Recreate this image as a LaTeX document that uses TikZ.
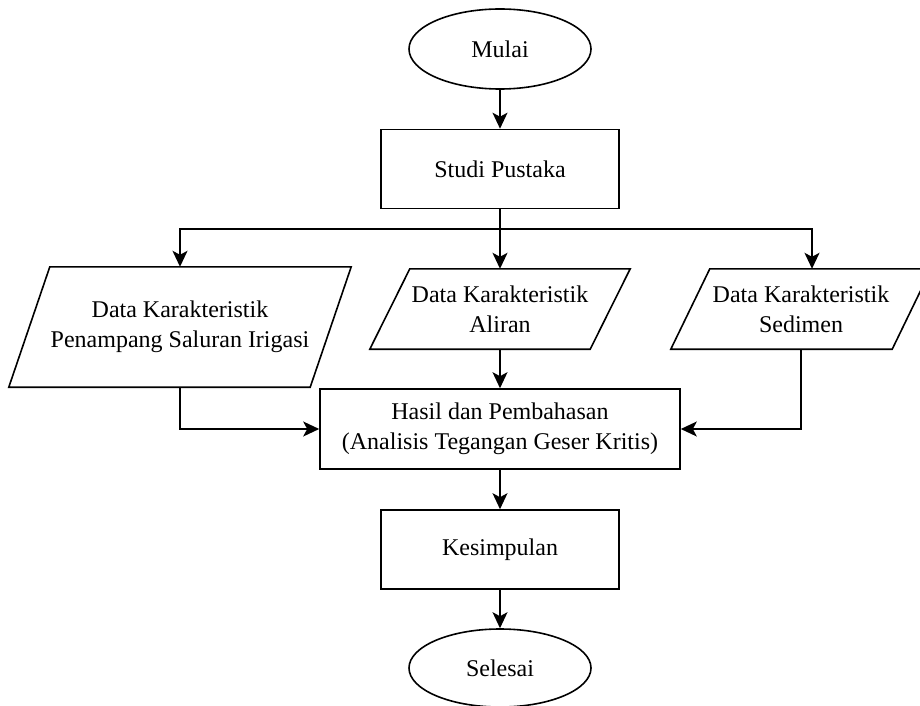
\documentclass[tikz,border=0pt]{standalone}
\usepackage{fontspec}
\setmainfont{Liberation Serif}
\usetikzlibrary{arrows.meta,shapes.geometric}
\begin{document}
\begin{tikzpicture}[x=1pt,y=1pt,
  every node/.style={font=\fontsize{24}{30}\selectfont, align=center, inner sep=0pt},
  term/.style={draw, ellipse, line width=1.6pt, minimum width=182, minimum height=80},
  proc/.style={draw, rectangle, line width=1.6pt},
  iobox/.style={rectangle},
  conn/.style={line width=1.6pt, -{Stealth[length=16pt,width=15pt,inset=4pt]}},
  shapeline/.style={line width=1.6pt, line join=miter}
]
\useasboundingbox (0,0) rectangle (920,-706);

\node[term] (mulai) at (500,-49) {Mulai};
\node[proc, minimum width=238, minimum height=79] (studi) at (500,-169) {Studi Pustaka};

\node[iobox, minimum width=301, minimum height=120] (pleft) at (180,-327) {Data Karakteristik\\Penampang Saluran Irigasi};
\node[iobox, minimum width=220, minimum height=80] (pmid) at (500,-309) {Data Karakteristik\\Aliran};
\node[iobox, minimum width=221, minimum height=80] (pright) at (801,-309) {Data Karakteristik\\Sedimen};

\draw[shapeline] ([xshift=20.5]pleft.north west) -- ([xshift=20.5]pleft.north east) -- ([xshift=-20.5]pleft.south east) -- ([xshift=-20.5]pleft.south west) -- cycle;
\draw[shapeline] ([xshift=20]pmid.north west) -- ([xshift=20]pmid.north east) -- ([xshift=-20]pmid.south east) -- ([xshift=-20]pmid.south west) -- cycle;
\draw[shapeline] ([xshift=19.5]pright.north west) -- ([xshift=19.5]pright.north east) -- ([xshift=-19.5]pright.south east) -- ([xshift=-19.5]pright.south west) -- cycle;

\node[proc, minimum width=360, minimum height=80] (hasil) at (500,-429) {Hasil dan Pembahasan\\(Analisis Tegangan Geser Kritis)};
\node[proc, minimum width=238, minimum height=79] (kes) at (500,-549.5) {Kesimpulan};
\node[term, minimum height=78] (selesai) at (500,-668) {Selesai};

\coordinate (j) at (500,-229);
\coordinate (rin) at ([xshift=11]pright.north);

\draw[conn] (mulai) -- (studi);
\draw[conn] (studi) -- (pmid);
\draw[conn] (j) -| (pleft.north);
\draw[conn] (j) -| (rin);
\draw[conn] (pmid) -- (hasil);
\draw[conn] (pleft.south) |- (hasil.west);
\draw[conn] (pright.south) |- (hasil.east);
\draw[conn] (hasil) -- (kes);
\draw[conn] (kes) -- (selesai);
\end{tikzpicture}
\end{document}
